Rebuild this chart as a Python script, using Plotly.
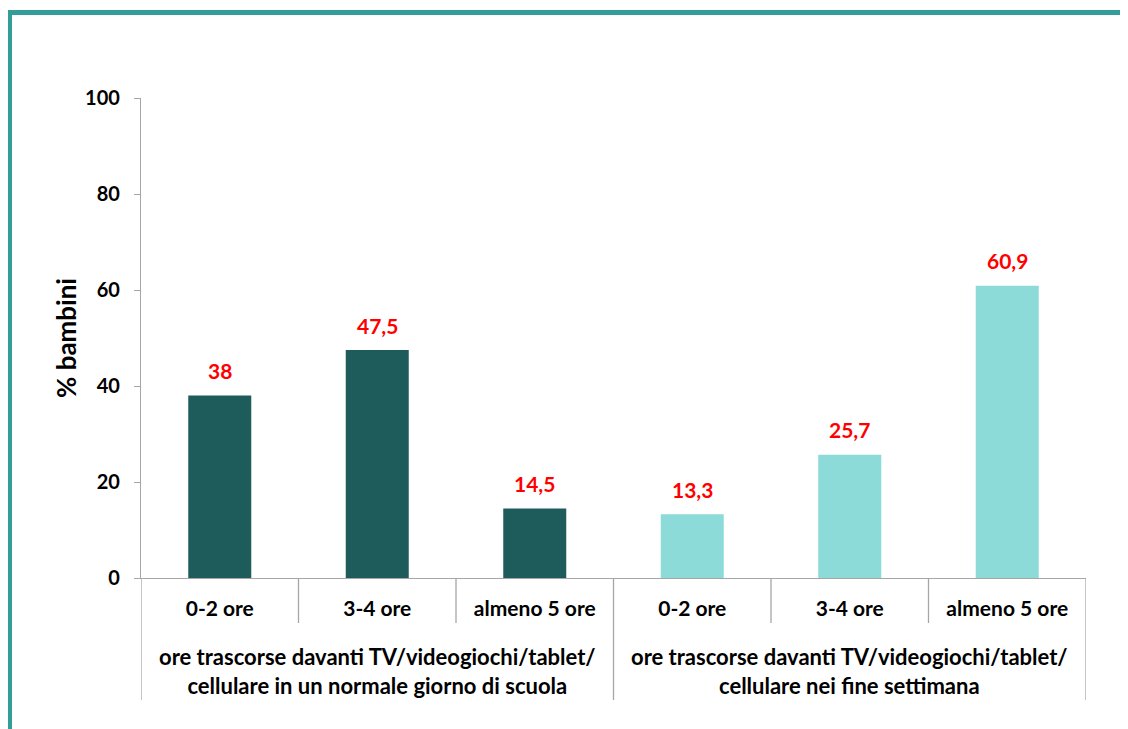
import plotly.graph_objects as go

categories = ["0-2 ore", "3-4 ore", "almeno 5 ore", "0-2 ore", "3-4 ore", "almeno 5 ore"]
groups = ["ore trascorse davanti TV/videogiochi/tablet/<br>cellulare in un normale giorno di scuola",
          "ore trascorse davanti TV/videogiochi/tablet/<br>cellulare nei fine settimana"]
school_values = [38, 47.5, 14.5]
weekend_values = [13.3, 25.7, 60.9]
y_ticks = [0, 20, 40, 60, 80, 100]

values = school_values + weekend_values
xpos = list(range(len(categories)))
DARK = "#1E5C5B"
LIGHT = "#8DDBD8"
colors = [DARK] * len(school_values) + [LIGHT] * len(weekend_values)
FONT = "Lato"

# page is offset by the 8px body margin
OFF = 8
W, H = 1128 - OFF, 729 - OFF
L, R, T, B = 141 - OFF, 1086 - OFF, 98 - OFF, 578 - OFF
pw, ph = R - L, B - T

def px_x(p):
    return (p - OFF - L) / pw

def px_y(p):
    return (B - (p - OFF)) / ph

fig = go.Figure()
fig.add_trace(go.Bar(x=xpos, y=values, marker=dict(color=colors, line=dict(width=0)),
                     width=0.4, showlegend=False, hoverinfo="skip"))

def fmt(v):
    return ("%g" % v).replace(".", ",")

for x, v in zip(xpos, values):
    fig.add_annotation(x=x, y=v, xref="x", yref="y", text=fmt(v), showarrow=False,
                       yshift=25, font=dict(family=FONT, size=21, color="#FF0000", weight="bold"))

# group labels
ng = len(school_values)
for gi, g in enumerate(groups):
    center = gi * ng + (ng - 1) / 2
    fig.add_annotation(x=center, y=px_y(671), xref="x", yref="paper", text=g, showarrow=False,
                       yanchor="middle", align="center",
                       font=dict(family=FONT, size=22, color="#000000", weight="bold"))

shapes = []
GRID = "#A6A6A6"
# dividers
for b in [x - 0.5 for x in xpos] + [xpos[-1] + 0.5]:
    long_line = abs((b + 0.5) % ng) < 1e-9
    y1 = px_y(700) if long_line else px_y(623)
    shapes.append(dict(type="line", xref="x", yref="paper", x0=b, x1=b, y0=0, y1=y1,
                       line=dict(color=GRID, width=1.3)))
# frame border
BORDER = "#339E99"
shapes.append(dict(type="rect", xref="paper", yref="paper", x0=px_x(0), x1=px_x(1140),
                   y0=px_y(10), y1=px_y(15), fillcolor=BORDER, line=dict(width=0), layer="below"))
shapes.append(dict(type="rect", xref="paper", yref="paper", x0=px_x(0), x1=px_x(12),
                   y0=px_y(10), y1=px_y(740), fillcolor=BORDER, line=dict(width=0), layer="below"))

fig.update_layout(
    width=W, height=H,
    margin=dict(l=L, r=W - R, t=T, b=H - B),
    plot_bgcolor="white", paper_bgcolor="white",
    shapes=shapes,
    xaxis=dict(range=[-0.5, len(categories) - 0.5], tickvals=xpos, ticktext=categories,
               showline=True, linecolor=GRID, linewidth=1.3, showgrid=False, zeroline=False,
               ticks="outside", ticklen=12, tickcolor="rgba(0,0,0,0)",
               tickfont=dict(family=FONT, size=21, color="#000000", weight="bold")),
    yaxis=dict(range=[0, 100], tickvals=y_ticks, showline=True, linecolor=GRID, linewidth=1.3,
               showgrid=False, zeroline=False, ticks="outside", ticklen=6, tickcolor=GRID,
               tickwidth=1.3, ticklabelstandoff=10,
               tickfont=dict(family=FONT, size=20, color="#000000", weight="bold"),
               title=dict(text="% bambini", standoff=0,
                          font=dict(family=FONT, size=26, color="#000000", weight="bold"))),
)

fig.write_html("out.html")
